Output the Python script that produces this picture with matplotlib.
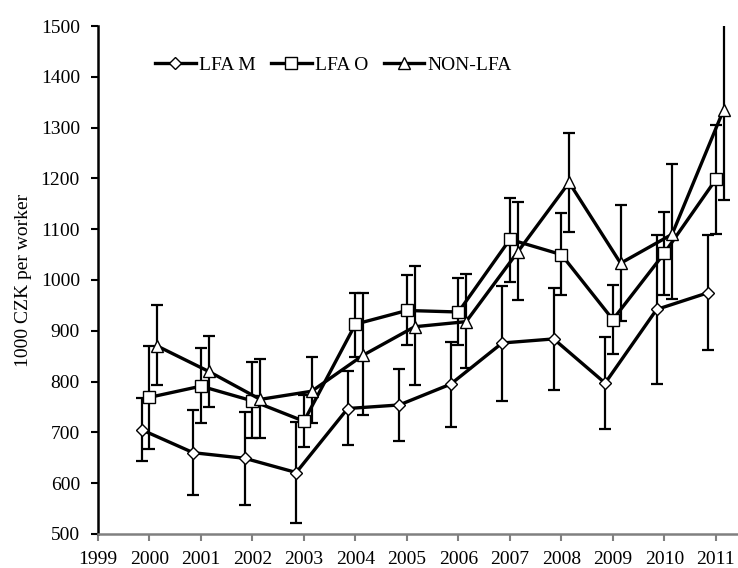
import numpy as np
import matplotlib
matplotlib.use("Agg")
import matplotlib.pyplot as plt

plt.rcParams["font.family"] = ["Liberation Serif", "DejaVu Serif"]

years = np.arange(2000, 2012)
tick_years = list(range(1999, 2012))

lfa_m = [705, 660, 649, 621, 747, 754, 795, 876, 884, 797, 942, 975]
lfa_m_hi = [768, 745, 740, 721, 821, 824, 877, 988, 985, 887, 1088, 1088]
lfa_m_lo = [644, 577, 558, 522, 675, 684, 711, 762, 783, 706, 795, 862]

lfa_o = [769, 791, 762, 722, 913, 940, 937, 1080, 1050, 922, 1053, 1198]
lfa_o_hi = [871, 867, 839, 773, 974, 1009, 1003, 1162, 1131, 990, 1133, 1305]
lfa_o_lo = [667, 718, 688, 672, 849, 872, 872, 996, 970, 854, 970, 1090]

non_lfa = [870, 820, 765, 781, 852, 908, 918, 1055, 1192, 1033, 1090, 1335]
non_lfa_hi = [951, 890, 844, 848, 974, 1027, 1012, 1153, 1289, 1148, 1228, 1520]
non_lfa_lo = [793, 750, 688, 718, 734, 793, 826, 960, 1095, 919, 962, 1157]

series = [
    ("LFA M", lfa_m, lfa_m_lo, lfa_m_hi, "D", -0.15, 6),
    ("LFA O", lfa_o, lfa_o_lo, lfa_o_hi, "s", 0.0, 8),
    ("NON-LFA", non_lfa, non_lfa_lo, non_lfa_hi, "^", 0.15, 8),
]

fig = plt.figure(figsize=(7.38, 5.68), dpi=100)
ax = fig.add_axes([0.1328, 0.0599, 0.8672, 0.8943])

for name, vals, lo, hi, mk, off, ms in series:
    vals = np.array(vals)
    yerr = [vals - np.array(lo), np.array(hi) - vals]
    ax.errorbar(years + off, vals, yerr=yerr, fmt="none", ecolor="black",
                elinewidth=1.6, capsize=4.5, capthick=1.6, zorder=2)
    ax.plot(years + off, vals, color="black", lw=2.4, marker=mk, ms=ms,
            mfc="white", mec="black", mew=1.0, label=name, zorder=3)

ax.set_xlim(1999, 2011.43)
ax.set_ylim(500, 1500)
ax.set_xticks(tick_years)
ax.set_yticks(range(500, 1501, 100))
ax.tick_params(axis="both", labelsize=14)
ax.tick_params(axis="y", direction="out", length=5, width=1.5, color="black", pad=8)
ax.tick_params(axis="x", direction="out", length=5, width=1.5, color="#808080", pad=7)
ax.set_ylabel("1000 CZK per worker", fontsize=14, labelpad=6)

for s in ["top", "right"]:
    ax.spines[s].set_visible(False)
ax.spines["left"].set_linewidth(1.8)
ax.spines["bottom"].set_linewidth(1.8)
ax.spines["bottom"].set_color("#808080")

ax.legend(loc="center left", bbox_to_anchor=(0.089, 0.923), ncol=3, frameon=False,
          fontsize=14, borderpad=0, borderaxespad=0, handlelength=2.1,
          handletextpad=0.15, columnspacing=0.8)

fig.savefig("out.png", dpi=100)
